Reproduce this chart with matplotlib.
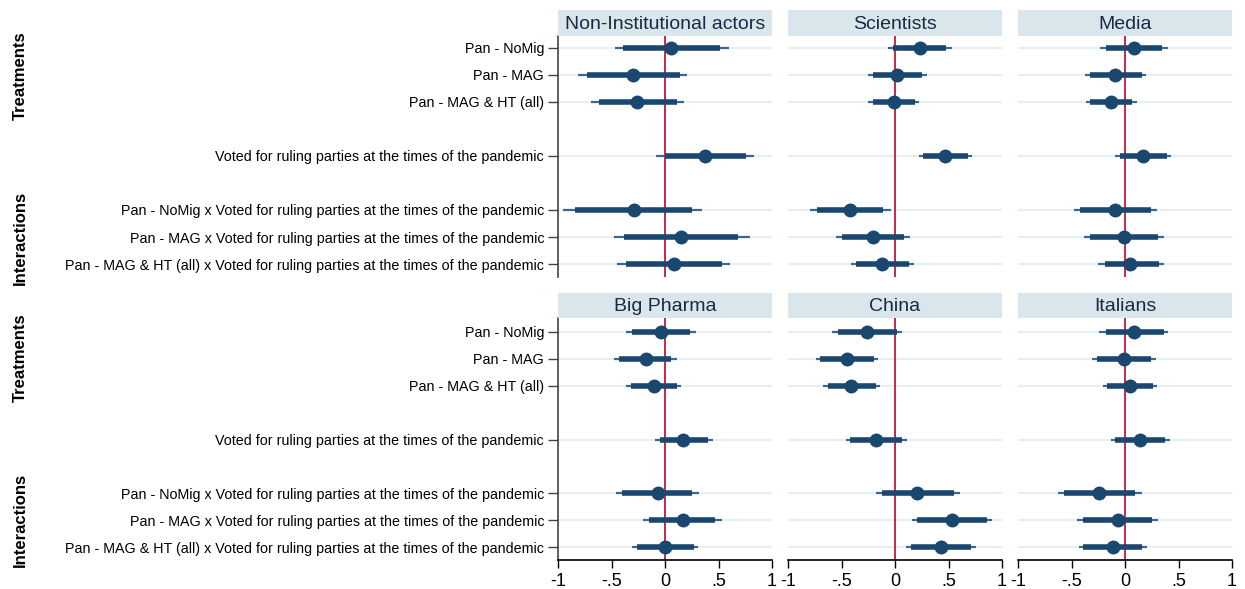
import numpy as np
import matplotlib.pyplot as plt

plt.rcParams['font.family'] = ['Liberation Sans', 'DejaVu Sans']

row_labels = [
    'Pan - NoMig',
    'Pan - MAG',
    'Pan - MAG & HT (all)',
    'Voted for ruling parties at the times of the pandemic',
    'Pan - NoMig x Voted for ruling parties at the times of the pandemic',
    'Pan - MAG x Voted for ruling parties at the times of the pandemic',
    'Pan - MAG & HT (all) x Voted for ruling parties at the times of the pandemic',
]
row_pos = [0, 1, 2, 4, 6, 7, 8]

panels = ['Non-Institutional actors', 'Scientists', 'Media',
          'Big Pharma', 'China', 'Italians']

# point estimates, one list per panel
coef = [
    [0.06, -0.30, -0.26, 0.37, -0.29, 0.15, 0.08],
    [0.23, 0.02, -0.01, 0.47, -0.42, -0.21, -0.12],
    [0.08, -0.09, -0.13, 0.17, -0.09, -0.01, 0.05],
    [-0.04, -0.18, -0.10, 0.17, -0.07, 0.17, 0.00],
    [-0.26, -0.45, -0.41, -0.18, 0.21, 0.53, 0.43],
    [0.08, -0.01, 0.05, 0.14, -0.24, -0.07, -0.11],
]
# inner (thick) interval
ci_in_lo = [
    [-0.39, -0.73, -0.62, 0.00, -0.84, -0.38, -0.36],
    [-0.02, -0.21, -0.21, 0.26, -0.73, -0.50, -0.36],
    [-0.18, -0.33, -0.33, -0.05, -0.42, -0.33, -0.19],
    [-0.31, -0.43, -0.32, -0.05, -0.40, -0.15, -0.26],
    [-0.53, -0.70, -0.63, -0.42, -0.12, 0.21, 0.15],
    [-0.18, -0.26, -0.17, -0.09, -0.57, -0.39, -0.39],
]
ci_in_hi = [
    [0.51, 0.14, 0.11, 0.76, 0.25, 0.68, 0.53],
    [0.48, 0.25, 0.19, 0.68, -0.11, 0.08, 0.13],
    [0.35, 0.16, 0.07, 0.39, 0.24, 0.31, 0.32],
    [0.23, 0.06, 0.11, 0.40, 0.25, 0.47, 0.27],
    [0.02, -0.20, -0.18, 0.07, 0.55, 0.86, 0.71],
    [0.36, 0.24, 0.26, 0.37, 0.09, 0.25, 0.16],
]
# outer (thin) interval
ci_out_lo = [
    [-0.47, -0.81, -0.69, -0.08, -0.95, -0.48, -0.45],
    [-0.07, -0.25, -0.25, 0.22, -0.79, -0.55, -0.41],
    [-0.23, -0.37, -0.36, -0.09, -0.48, -0.38, -0.25],
    [-0.36, -0.48, -0.36, -0.09, -0.46, -0.21, -0.31],
    [-0.59, -0.74, -0.67, -0.46, -0.18, 0.16, 0.10],
    [-0.24, -0.31, -0.21, -0.13, -0.63, -0.45, -0.43],
]
ci_out_hi = [
    [0.60, 0.21, 0.18, 0.83, 0.35, 0.79, 0.61],
    [0.53, 0.30, 0.22, 0.72, -0.04, 0.14, 0.18],
    [0.40, 0.20, 0.11, 0.43, 0.30, 0.36, 0.36],
    [0.29, 0.11, 0.15, 0.45, 0.32, 0.53, 0.31],
    [0.07, -0.16, -0.14, 0.11, 0.61, 0.91, 0.76],
    [0.40, 0.29, 0.30, 0.42, 0.16, 0.31, 0.21],
]

xticks = [-1, -0.5, 0, 0.5, 1]
xticklabels = ['-1', '-.5', '0', '.5', '1']

navy = '#1a476f'
thin_col = '#3a6890'
W, H = 1245, 589
fig = plt.figure(figsize=(W / 100, H / 100), dpi=100)

col_left = [558, 788, 1018]
col_w = 214
# (header top, plot top, plot bottom) in pixels
row_geo = [(10, 36, 277), (293, 318, 560)]

for k, name in enumerate(panels):
    r, c = divmod(k, 3)
    htop, ptop, pbot = row_geo[r]
    x0 = col_left[c] / W
    ax = fig.add_axes([x0, 1 - pbot / H, col_w / W, (pbot - ptop) / H])
    hax = fig.add_axes([x0, 1 - ptop / H, col_w / W, (ptop - htop) / H])
    hax.set_facecolor('#d9e6ec')
    hax.set_xticks([])
    hax.set_yticks([])
    for s in hax.spines.values():
        s.set_visible(False)
    hax.text(0.5, 0.45, name, ha='center', va='center', fontsize=14,
             color='#1a2a44', transform=hax.transAxes)

    for p in row_pos:
        ax.axhline(p, color='#e6eef2', lw=1.5, zorder=0)
    ax.axvline(0, color='#c0173d', lw=1.3, zorder=1)
    ax.hlines(row_pos, ci_out_lo[k], ci_out_hi[k], color=thin_col, lw=1.6, zorder=2)
    ax.hlines(row_pos, ci_in_lo[k], ci_in_hi[k], color=navy, lw=4, zorder=3)
    ax.plot(coef[k], row_pos, 'o', color=navy, ms=9, zorder=4)

    ax.set_xlim(-1, 1)
    if r == 0:
        ax.set_ylim(8.48, -0.44)
    else:
        ax.set_ylim(8.48, -0.52)
    for s in ['top', 'right']:
        ax.spines[s].set_visible(False)

    if c == 0:
        ax.spines['left'].set_color('#444444')
        ax.spines['left'].set_linewidth(1.2)
        ax.set_yticks(row_pos)
        ax.set_yticklabels(row_labels, fontsize=10.3)
        ax.tick_params(axis='y', length=7, width=1, color='#444444', pad=3)
    else:
        ax.spines['left'].set_visible(False)
        ax.set_yticks([])

    if r == 1:
        ax.spines['bottom'].set_linewidth(1.2)
        ax.set_xticks(xticks)
        ax.set_xticklabels(xticklabels, fontsize=13)
        ax.tick_params(axis='x', length=6, width=1, pad=3)
    else:
        ax.spines['bottom'].set_visible(False)
        ax.set_xticks([])

# group labels at left
for r, (htop, ptop, pbot) in enumerate(row_geo):
    fig.text(20 / W, 1 - (76 if r == 0 else 358) / H, 'Treatments',
             rotation=90, ha='center', va='center', fontsize=12, fontweight='bold')
    fig.text(20 / W, 1 - (238 if r == 0 else 520) / H, 'Interactions',
             rotation=90, ha='center', va='center', fontsize=12, fontweight='bold')

fig.savefig('out.png', dpi=100, facecolor='white')
